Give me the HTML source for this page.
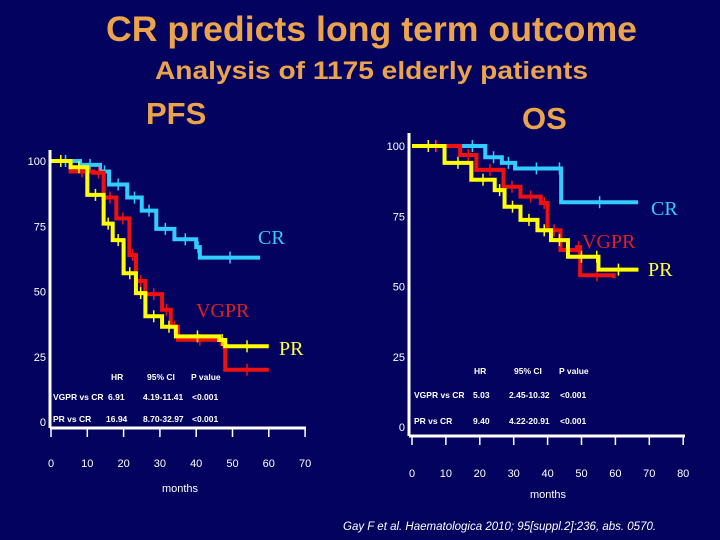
<!DOCTYPE html>
<html><head><meta charset="utf-8"><style>
body{margin:0;background:#03035f;}
svg{display:block}
.t{font-family:"Liberation Sans",sans-serif;font-weight:bold;fill:#eba44c}
.ax{font-family:"Liberation Sans",sans-serif;fill:#fff;font-size:11px}
.st{font-family:"Liberation Sans",sans-serif;fill:#fff;font-size:8.5px;font-weight:bold}
.lb{font-family:"Liberation Serif",serif;font-size:20px}
</style></head><body>
<svg id="s" width="720" height="540" xmlns="http://www.w3.org/2000/svg">
<rect width="720" height="540" fill="#03035f"/>
<text class="t" x="106" y="41" font-size="35" textLength="531" lengthAdjust="spacingAndGlyphs">CR predicts long term outcome</text>
<text class="t" x="155" y="79" font-size="25" textLength="433" lengthAdjust="spacingAndGlyphs">Analysis of 1175 elderly patients</text>
<text class="t" x="146" y="124" font-size="31">PFS</text>
<text class="t" x="522" y="129" font-size="31">OS</text>
<g id="gl"></g>
<g id="gr"></g>
<text x="343" y="530" font-family="Liberation Sans,sans-serif" font-style="italic" font-size="11.5" fill="#fff">Gay F et al. Haematologica 2010; 95[suppl.2]:236, abs. 0570.</text>
</svg>
<script>
// PFS data
const pfsMonths_CR=[0,8,13.5,16,21,25,29,34,40,41,57.6];
const pfsCR=[100,98.5,96,91,86,81,74,70,67,63,63];
const pfsMonths_VGPR=[0,5.4,11.7,14.5,18,21.6,23.4,26,30.6,33,35,47,48,60];
const pfsVGPR=[100,96,95.5,86,78,64,54,49,43,36.5,31.5,30,20,20];
const pfsMonths_PR=[0,5.4,10,14.5,17,20,23.4,26,30.6,34.4,46.3,48,60];
const pfsPR=[100,97.6,87,76,69.7,57,49.4,40.5,36.5,32.8,31.4,29,29];
// OS data
const osMonths_CR=[0,14,21.6,26.5,30.4,43,44,66.7];
const osCR=[100,100,96,94,92,92,80,80];
const osMonths_VGPR=[0,14.2,19,27,32,38,40,43.8,48.7,49.6,59.5];
const osVGPR=[100,96.8,91.5,85.5,82,79.7,70,63,64,54,53];
const osMonths_PR=[0,9.6,17.5,24.4,27.3,32,37,41,46,54,55,66.8];
const osPR=[100,94,88,84.3,78.4,73.7,70,66.5,60.6,60.6,56,56];
const pfsXTicks=[0,10,20,30,40,50,60,70];
const osXTicks=[0,10,20,30,40,50,60,70,80];
const yTicks=[0,25,50,75,100];

const NS='http://www.w3.org/2000/svg';
function mk(p,tag,at,txt){const e=document.createElementNS(NS,tag);for(const k in at)e.setAttribute(k,at[k]);if(txt!=null)e.textContent=txt;p.appendChild(e);return e;}

function chart(g,cfg){
  const X=m=>cfg.x0+m*cfg.xs, Y=v=>cfg.y0-v*cfg.ys;
  const series=[[cfg.cr,cfg.crV,'#33ccff','cr'],[cfg.vg,cfg.vgV,'#ee1111','vgpr'],[cfg.pr,cfg.prV,'#ffff00','pr']];
  for(const [ms,vs,col,nm] of series){
    let d='M'+X(ms[0])+','+Y(vs[0]);
    for(let i=1;i<ms.length;i++){d+=' H'+X(ms[i])+' V'+Y(vs[i]);}
    const p=mk(g,'path',{d:d,fill:'none',stroke:col,'stroke-width':4});
    
    
    for(let i=0;i<ms.length-1;i++){
      const c=mk(g,'line',{x1:X((ms[i]+ms[i+1])/2),x2:X((ms[i]+ms[i+1])/2),y1:Y(vs[i])-6,y2:Y(vs[i])+6,stroke:col,'stroke-width':1.5});
      
      
    }
  }
  const ya=mk(g,'line',{x1:cfg.ax,x2:cfg.ax,y1:cfg.yTop,y2:cfg.axY,stroke:'#fff','stroke-width':3});
  
  
  const xa=mk(g,'line',{x1:cfg.ax,x2:cfg.xEnd,y1:cfg.axY,y2:cfg.axY,stroke:'#fff','stroke-width':3});
  
  
  for(const t of cfg.xt){
    const l=mk(g,'line',{x1:X(t),x2:X(t),y1:cfg.axY,y2:cfg.axY+9,stroke:'#fff','stroke-width':1.5});
    
    
    const tx=mk(g,'text',{x:X(t),y:cfg.xlY,'text-anchor':'middle',class:'ax'},String(t));
    
    
  }
  for(const t of yTicks){
    const tx=mk(g,'text',{x:cfg.ax-4,y:Y(t)+4,'text-anchor':'end',class:'ax'},String(t));
    
    
  }
  const ml=mk(g,'text',{x:cfg.mlX,y:cfg.mlY,'text-anchor':'middle',class:'ax','font-size':'13'},'months');
  
  
  for(const L of cfg.labels){
    const t=mk(g,'text',{x:L[0],y:L[1],fill:L[3],class:'lb'},L[2]);
    
    
  }
  for(const r of cfg.table){
    const t=mk(g,'text',{x:r[0],y:r[1],class:'st'},r[2]);
    
    
  }
}
chart(document.getElementById('gl'),{x0:51,xs:3.63,y0:422,ys:2.61,ax:50,yTop:150,axY:428,xEnd:306,xlY:467,xt:pfsXTicks,mlX:180,mlY:492,
  cr:pfsMonths_CR,crV:pfsCR,vg:pfsMonths_VGPR,vgV:pfsVGPR,pr:pfsMonths_PR,prV:pfsPR,
  labels:[[258,244,'CR','#33ccff'],[196,317,'VGPR','#dd2222'],[279,355,'PR','#ffff44']],
  table:[[111,380,'HR'],[147,380,'95% CI'],[191,380,'P value'],[53,400,'VGPR vs CR'],[108,400,'6.91'],[143,400,'4.19-11.41'],[192,400,'<0.001'],[53,422,'PR vs CR'],[106,422,'16.94'],[143,422,'8.70-32.97'],[192,422,'<0.001']]});
chart(document.getElementById('gr'),{x0:412,xs:3.39,y0:427,ys:2.81,ax:409,yTop:133,axY:436,xEnd:685,xlY:477,xt:osXTicks,mlX:548,mlY:498,
  cr:osMonths_CR,crV:osCR,vg:osMonths_VGPR,vgV:osVGPR,pr:osMonths_PR,prV:osPR,
  labels:[[651,215,'CR','#33ccff'],[582,248,'VGPR','#dd2222'],[648,276,'PR','#ffff44']],
  table:[[474,374,'HR'],[514,374,'95% CI'],[559,374,'P value'],[414,398,'VGPR vs CR'],[473,398,'5.03'],[509,398,'2.45-10.32'],[560,398,'<0.001'],[414,424,'PR vs CR'],[473,424,'9.40'],[509,424,'4.22-20.91'],[560,424,'<0.001']]});
</script>
</body></html>
